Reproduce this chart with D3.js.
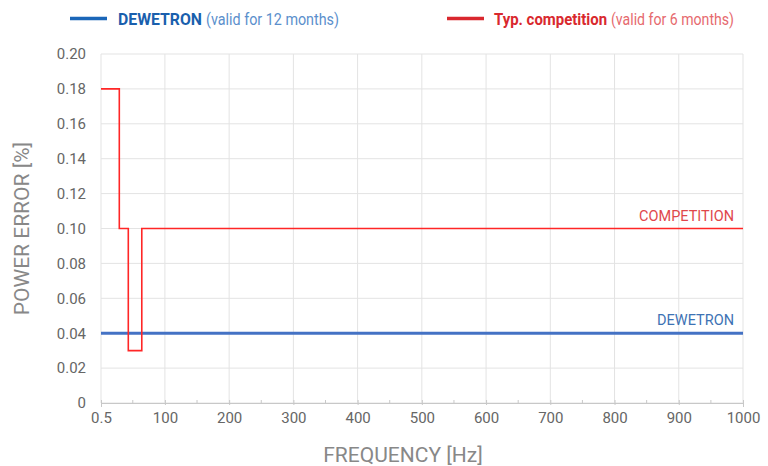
<!DOCTYPE html>
<html>
<head>
<meta charset="utf-8">
<script src="https://cdn.jsdelivr.net/npm/d3@7"></script>
<style>
  body { margin: 0; background: #fff; }
  text { font-family: Roboto, "Noto Sans", sans-serif; }
</style>
</head>
<body>
<svg id="chart" width="768" height="466"></svg>
<script>
// step data: [frequency, error] - value holds until next frequency
const competitionFreq = [0.5, 29, 43, 64, 1000];
const competitionErr = [0.18, 0.10, 0.03, 0.10, 0.10];
const dewetronFreq = [0.5, 1000];
const dewetronErr = [0.04, 0.04];
const xTicks = [0.5, 100, 200, 300, 400, 500, 600, 700, 800, 900, 1000];
const xMinor = [50, 150, 250, 350, 450, 550, 650, 750, 850, 950];
const yTicks = [0, 0.02, 0.04, 0.06, 0.08, 0.10, 0.12, 0.14, 0.16, 0.18, 0.20];

const margin = { top: 54, right: 25, bottom: 63, left: 101 },
  width = 768,
  height = 466,
  innerWidth = width - margin.left - margin.right,
  innerHeight = height - margin.top - margin.bottom;

const svg = d3.select('#chart');
const g = svg.append('g').attr('transform', `translate(${margin.left},${margin.top})`);

const x = d3.scaleLinear().domain([0.5, 1000]).range([0, innerWidth]);
const y = d3.scaleLinear().domain([0, 0.2]).range([innerHeight, 0]);

// grid
g.selectAll('.vgrid').data(xTicks).join('line').attr('class', 'vgrid')
  .attr('x1', d => x(d)).attr('x2', d => x(d)).attr('y1', 0).attr('y2', innerHeight)
  .attr('stroke', '#e3e3e3').attr('stroke-width', 1);
g.selectAll('.hgrid').data(yTicks).join('line').attr('class', 'hgrid')
  .attr('x1', 0).attr('x2', innerWidth).attr('y1', d => y(d)).attr('y2', d => y(d))
  .attr('stroke', '#e3e3e3').attr('stroke-width', 1);

// x axis
const xAxis = g.append('g').attr('transform', `translate(0,${innerHeight})`)
  .call(d3.axisBottom(x).tickValues(xTicks).tickFormat(d => d === 0.5 ? '0.5' : d).tickSize(4).tickPadding(5));
xAxis.select('.domain').attr('stroke', '#c8c8c8');
xAxis.selectAll('.tick line').attr('stroke', '#c8c8c8').attr('y1', -3).attr('y2', 2);
xAxis.selectAll('text').attr('fill', '#666').style('font-size', '15px')
  .style('font-family', 'Roboto, sans-serif');
g.selectAll('.minor').data(xMinor).join('line').attr('class', 'minor')
  .attr('x1', d => x(d)).attr('x2', d => x(d)).attr('y1', innerHeight - 3).attr('y2', innerHeight)
  .attr('stroke', '#c8c8c8');

// y axis labels
const yAxis = g.append('g')
  .call(d3.axisLeft(y).tickValues(yTicks).tickFormat(d => d === 0 ? '0' : d3.format('.2f')(d)).tickSize(0).tickPadding(15));
yAxis.select('.domain').remove();
yAxis.selectAll('text').attr('fill', '#666').style('font-size', '15px')
  .style('font-family', 'Roboto, sans-serif');

// lines
const line = d3.line().x(d => x(d[0])).y(d => y(d[1])).curve(d3.curveStepAfter);
g.append('path').datum(dewetronFreq.map((f, i) => [f, dewetronErr[i]]))
  .attr('d', line).attr('fill', 'none').attr('stroke', '#4472c4').attr('stroke-width', 3);
g.append('path').datum(competitionFreq.map((f, i) => [f, competitionErr[i]]))
  .attr('d', line).attr('fill', 'none').attr('stroke', '#ff2626').attr('stroke-width', 1.6);

// line labels
g.append('text').attr('x', x(1000) - 9).attr('y', y(0.10) - 8).attr('text-anchor', 'end')
  .attr('fill', '#e0474c').style('font-size', '14.5px').text('COMPETITION');
g.append('text').attr('x', x(1000) - 9).attr('y', y(0.04) - 8).attr('text-anchor', 'end')
  .attr('fill', '#3d72b4').style('font-size', '14.5px').text('DEWETRON');

// axis titles
svg.append('text').attr('x', 403).attr('y', 462).attr('text-anchor', 'middle')
  .attr('fill', '#888').style('font-size', '21px').text('FREQUENCY [Hz]');
svg.append('text').attr('transform', `translate(29,${margin.top + innerHeight / 2}) rotate(-90)`)
  .attr('text-anchor', 'middle').attr('fill', '#888').style('font-size', '21px').text('POWER ERROR [%]');

// legend
const legend = svg.append('g');
function legendText(x0, len, txt, color, bold) {
  legend.append('text').attr('x', x0).attr('y', 25).style('font-size', '16px')
    .attr('fill', color).attr('font-weight', bold ? 'bold' : 'normal')
    .attr('textLength', len).attr('lengthAdjust', 'spacingAndGlyphs').text(txt);
}
legend.append('line').attr('x1', 70).attr('x2', 107).attr('y1', 18.5).attr('y2', 18.5)
  .attr('stroke', '#1a66b8').attr('stroke-width', 3.5);
legendText(118, 84, 'DEWETRON', '#1a5fad', true);
legendText(206, 133, '(valid for 12 months)', '#5b8fcc', false);
legend.append('line').attr('x1', 447).attr('x2', 484).attr('y1', 18.5).attr('y2', 18.5)
  .attr('stroke', '#d9282e').attr('stroke-width', 3.5);
legendText(494, 113, 'Typ. competition', '#d9282e', true);
legendText(611, 123, '(valid for 6 months)', '#e66a6e', false);
</script>
</body>
</html>
